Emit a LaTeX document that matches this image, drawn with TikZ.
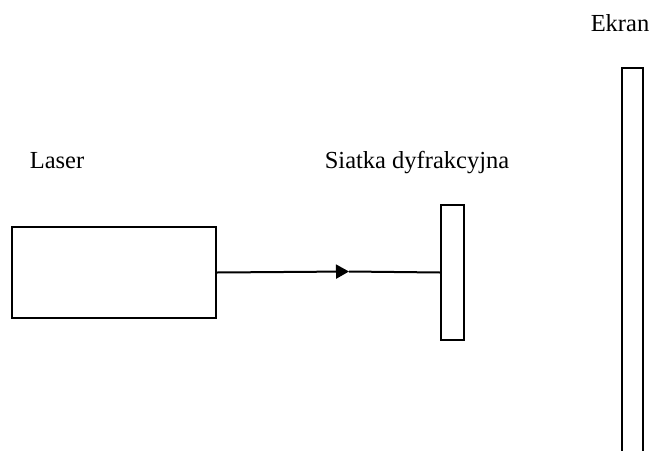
\documentclass[tikz,border=0pt]{standalone}
\usepackage{fontspec}
\setmainfont{Liberation Serif}
\usetikzlibrary{arrows.meta}
\begin{document}
\begin{tikzpicture}[x=1pt,y=-1pt,
  box/.style={draw, line width=2pt, fill=white, inner sep=0pt, anchor=north west},
  lbl/.style={font=\fontsize{24.5}{29}\selectfont, inner sep=0pt, anchor=base},
  conn/.style={line width=2pt}]
\useasboundingbox (0,0) rectangle (653,450);
\node[box, minimum width=204pt, minimum height=91pt] (laser) at (11,226) {};
\node[box, minimum width=23pt, minimum height=135pt] (grating) at (440,204) {};
\coordinate (s1) at (622,452);
\coordinate (s2) at (622,68);
\coordinate (s3) at (643,68);
\coordinate (s4) at (643,452);
\draw[line width=2pt] (s1) -- (s2) -- (s3) -- (s4);
\coordinate (mid) at (349,271.5);
\draw[conn, -{Triangle[length=13pt,width=14pt]}] (laser.east) -- (mid);
\draw[conn] (mid) -- (grating.west);
\node[lbl] (tlaser) at (57,168) {Laser};
\node[lbl] (tgrating) at (417,168) {Siatka dyfrakcyjna};
\node[lbl] (tscreen) at (620,31) {Ekran};
\end{tikzpicture}
\end{document}
